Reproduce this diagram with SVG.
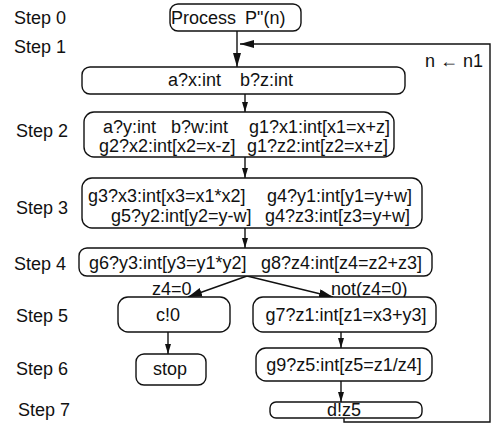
<svg xmlns="http://www.w3.org/2000/svg" width="496" height="426" viewBox="0 0 496 426">
<defs>
<style>
text{font-family:"Liberation Sans",Arial,sans-serif;font-size:18px;fill:#111}
.node rect{fill:#fff;stroke:#111;stroke-width:1.4}
.c{text-anchor:middle}
.edge{fill:none;stroke:#111;stroke-width:1.4}
</style>
<marker id="big" viewBox="0 0 14 8" refX="14" refY="4" markerWidth="14" markerHeight="8" markerUnits="userSpaceOnUse" orient="auto"><path d="M0,0 L14,4 L0,8 Z" fill="#111"/></marker>
<marker id="sm" viewBox="0 0 10 6" refX="10" refY="3" markerWidth="10" markerHeight="6" markerUnits="userSpaceOnUse" orient="auto"><path d="M0,0 L10,3 L0,6 Z" fill="#111"/></marker>
<marker id="mid" viewBox="0 0 14 9" refX="14" refY="4.5" markerWidth="14" markerHeight="9" markerUnits="userSpaceOnUse" orient="auto"><path d="M0,0 L14,4.5 L0,9 Z" fill="#111"/></marker>
</defs>
<rect width="496" height="426" fill="#fff"/>
<g id="labels">
<text x="14" y="24">Step 0</text>
<text x="14" y="53">Step 1</text>
<text x="16" y="137">Step 2</text>
<text x="16" y="214">Step 3</text>
<text x="14" y="270">Step 4</text>
<text x="16" y="322">Step 5</text>
<text x="16" y="375">Step 6</text>
<text x="18" y="416">Step 7</text>
</g>
<g id="connectors">
<path class="edge" d="M237,31 V67" marker-end="url(#big)"/>
<path class="edge" d="M344,418 V422 H490 V44 H240" marker-end="url(#big)"/>
<path class="edge" d="M245,94 V112" marker-end="url(#sm)"/>
<path class="edge" d="M245,157 V178" marker-end="url(#sm)"/>
<path class="edge" d="M245,228 V248" marker-end="url(#sm)"/>
<path class="edge" d="M247,276 L188,297" marker-end="url(#mid)"/>
<path class="edge" d="M247,276 L333,297" marker-end="url(#mid)"/>
<path class="edge" d="M168,332 V354" marker-end="url(#sm)"/>
<path class="edge" d="M341,332 V348" marker-end="url(#sm)"/>
<path class="edge" d="M341,381 V402" marker-end="url(#sm)"/>
<text x="425" y="67">n ← n1</text>
<text x="152" y="295">z4=0</text>
<text x="331" y="295">not(z4=0)</text>
</g>
<g id="step0" class="node">
<rect x="170" y="4" width="131" height="27" rx="8"/>
<text x="171" y="24">Process<tspan x="245">P"(n)</tspan></text>
</g>
<g id="step1" class="node">
<rect x="82" y="67" width="323" height="27" rx="8"/>
<text x="168" y="86">a?x:int<tspan x="240">b?z:int</tspan></text>
</g>
<g id="step2" class="node">
<rect x="84" y="112" width="310" height="45" rx="10"/>
<text x="103" y="133">a?y:int<tspan x="171">b?w:int</tspan><tspan x="249">g1?x1:int[x1=x+z]</tspan></text>
<text x="99" y="152">g2?x2:int[x2=x-z]<tspan x="247">g1?z2:int[z2=x+z]</tspan></text>
</g>
<g id="step3" class="node">
<rect x="82" y="178" width="340" height="50" rx="10"/>
<text x="88" y="202">g3?x3:int[x3=x1*x2]<tspan x="267">g4?y1:int[y1=y+w]</tspan></text>
<text x="111" y="222">g5?y2:int[y2=y-w]<tspan x="265">g4?z3:int[z3=y+w]</tspan></text>
</g>
<g id="step4" class="node">
<rect x="79" y="248" width="353" height="28" rx="8"/>
<text x="89" y="269">g6?y3:int[y3=y1*y2]<tspan x="261">g8?z4:int[z4=z2+z3]</tspan></text>
</g>
<g id="c0" class="node">
<rect x="118" y="297" width="112" height="35" rx="10"/>
<text class="c" x="168" y="321">c!0</text>
</g>
<g id="g7" class="node">
<rect x="253" y="297" width="183" height="35" rx="10"/>
<text class="c" x="346" y="321">g7?z1:int[z1=x3+y3]</text>
</g>
<g id="stop" class="node">
<rect x="136" y="354" width="70" height="31" rx="8"/>
<text class="c" x="170" y="375">stop</text>
</g>
<g id="g9" class="node">
<rect x="256" y="348" width="176" height="33" rx="10"/>
<text class="c" x="344" y="371">g9?z5:int[z5=z1/z4]</text>
</g>
<g id="dz5" class="node">
<rect x="270" y="402" width="152" height="16" rx="6"/>
<text class="c" x="344" y="416">d!z5</text>
</g>
</svg>
